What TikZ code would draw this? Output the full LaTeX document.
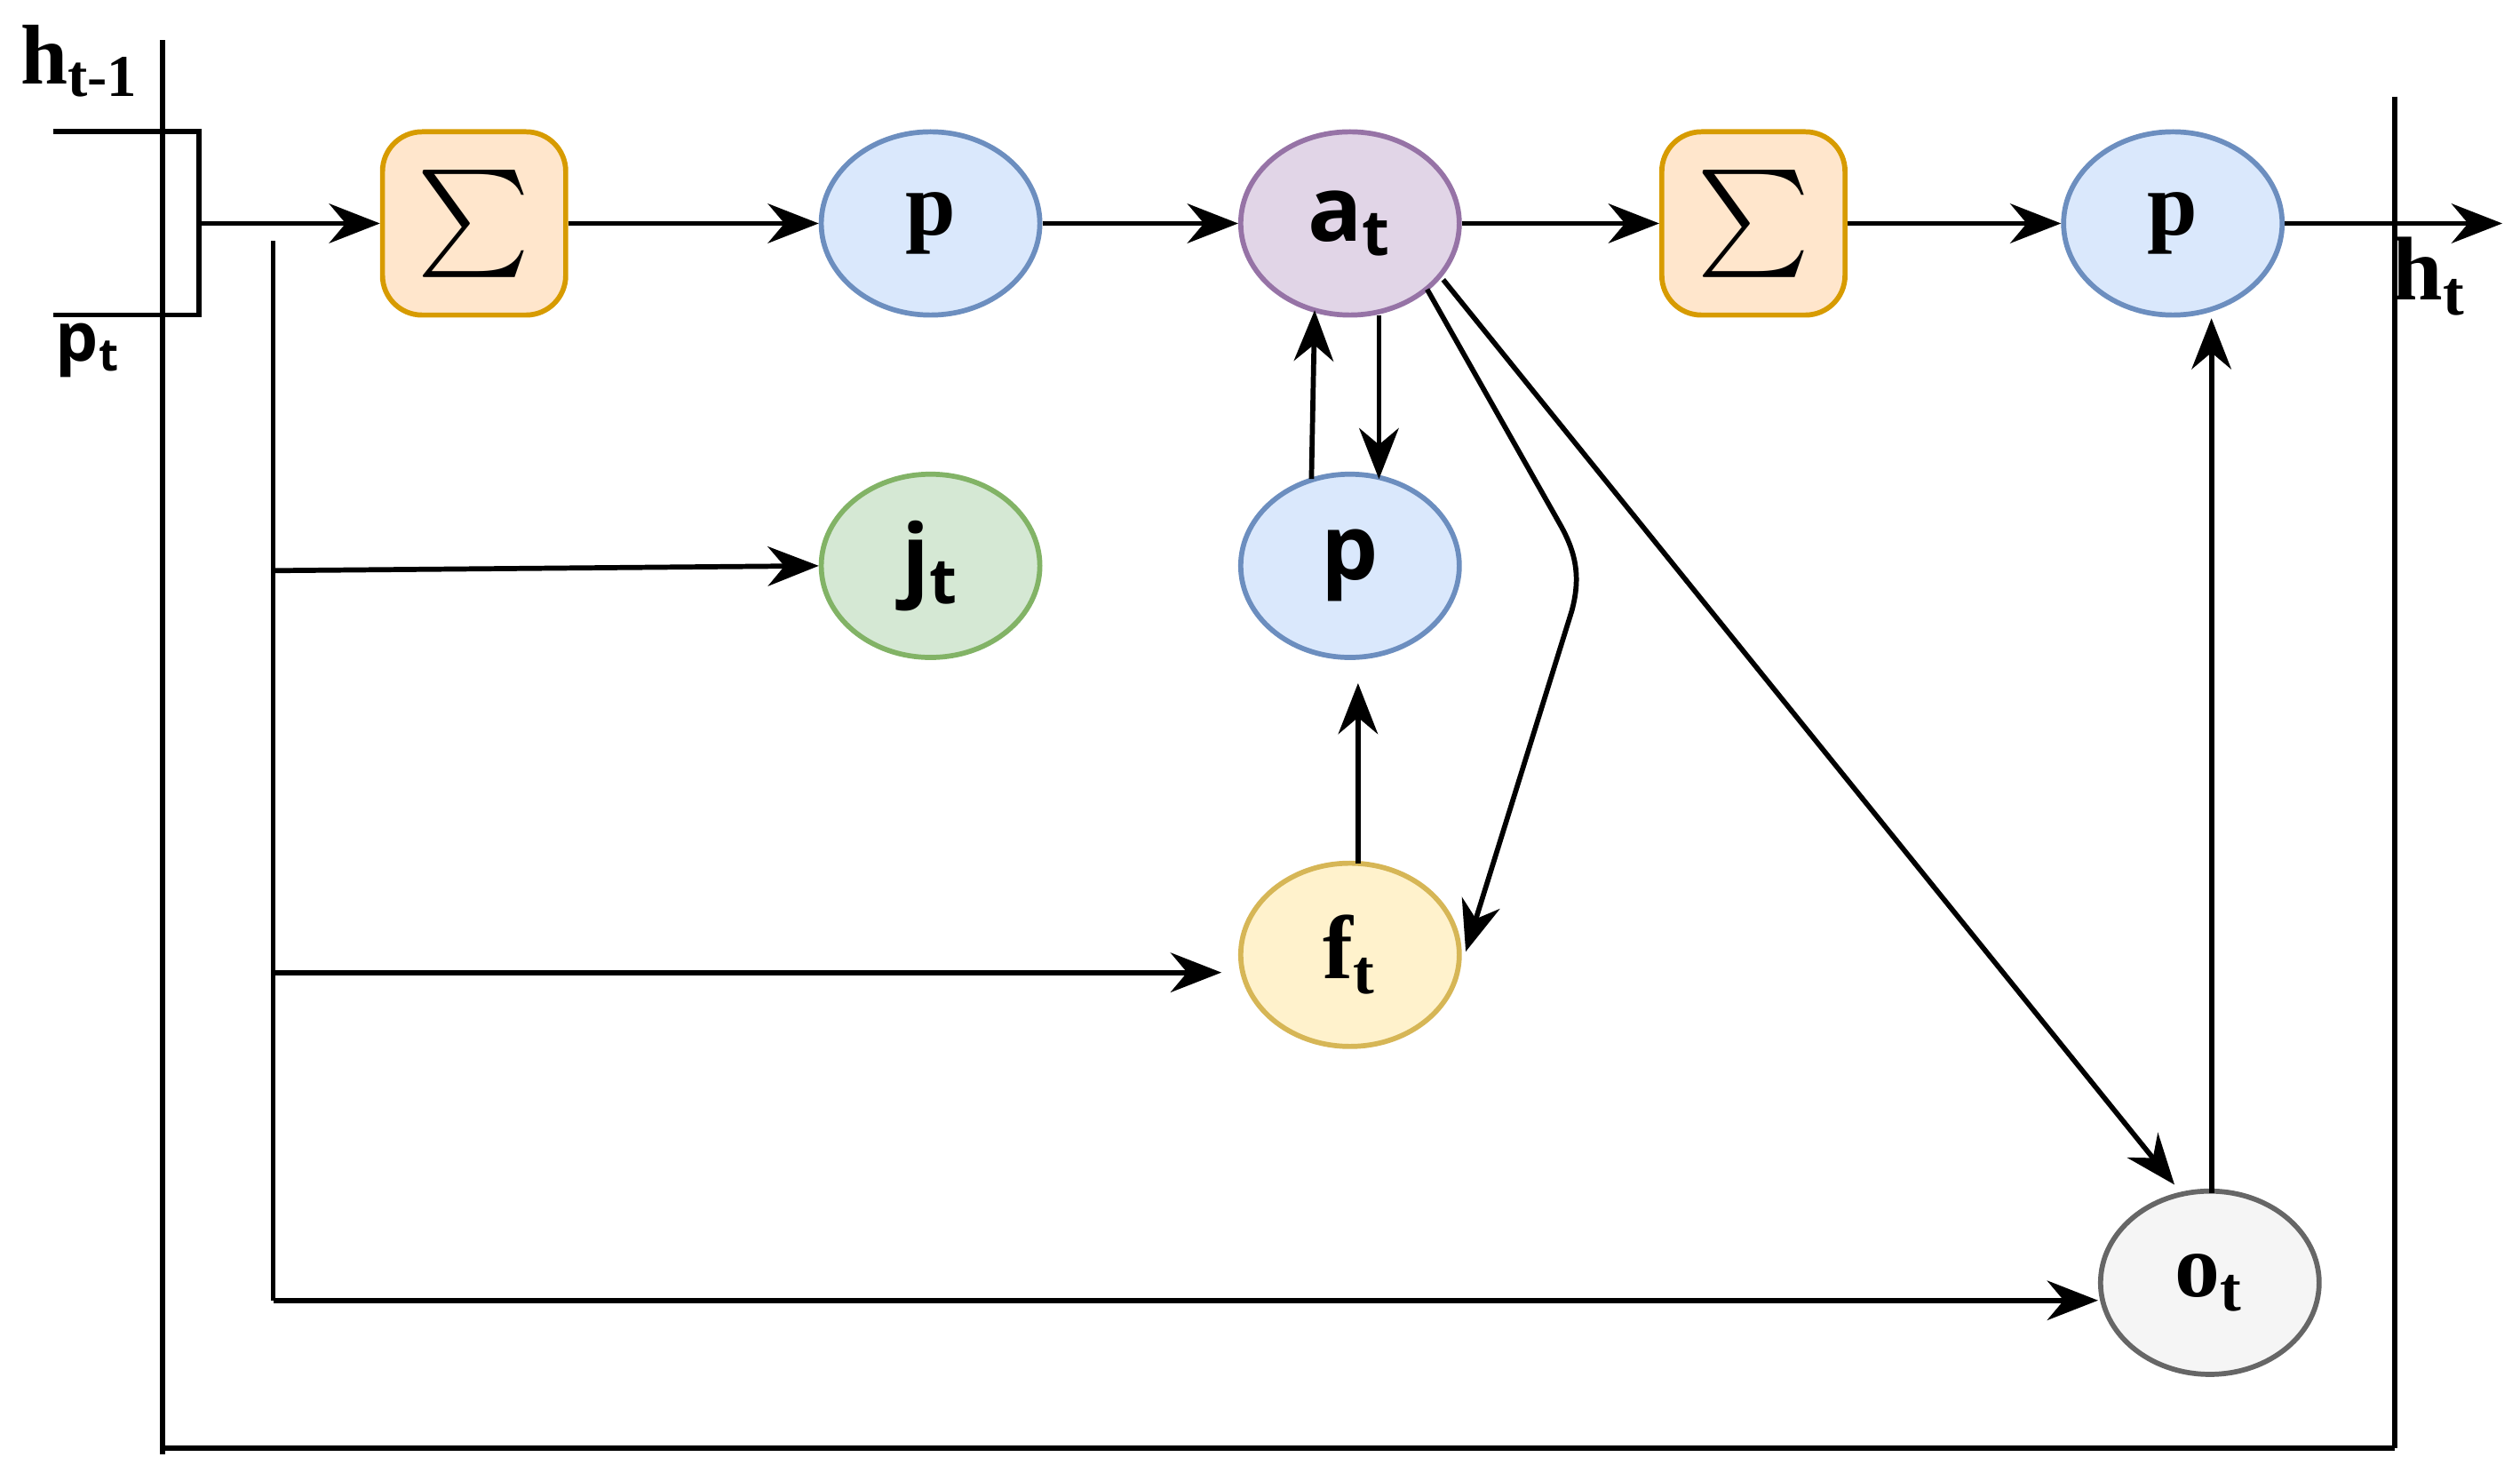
\documentclass[tikz,border=0pt]{standalone}
\usepackage{fontspec}
\setmainfont{Liberation Serif}
\newfontfamily\ssf{Open Sans}
\usetikzlibrary{shapes.geometric,arrows.meta}
\begin{document}
\begin{tikzpicture}[x=1cm,y=1cm,
  ar/.style={-{Stealth[length=9pt,width=7pt]},line width=0.9pt},
  ln/.style={line width=0.9pt},
  el/.style={ellipse,minimum width=1.36cm,minimum height=1.14cm,line width=0.9pt,inner sep=0pt,font=\fontsize{16}{18}\selectfont\bfseries},
  sg/.style={rectangle,rounded corners=7pt,minimum width=1.14cm,minimum height=1.14cm,line width=0.9pt,draw={rgb,255:red,215;green,155;blue,0}},
  blue/.style={fill={rgb,255:red,218;green,232;blue,252},draw={rgb,255:red,108;green,142;blue,191}},
  lbl/.style={font=\fontsize{15}{17}\selectfont\bfseries}]
\useasboundingbox (0,0) rectangle (15.68,-9.21);
\definecolor{sfill}{RGB}{255,230,204}
% frame
\draw[ln] (1.01,-0.25) -- (1.01,-9.05);
\draw[ln] (1.01,-9.01) -- (14.90,-9.01);
\draw[ln] (14.90,-0.60) -- (14.90,-9.01);
\node[lbl] (hin) at (0.50,-0.38) {h\textsubscript{t-1}};
\node[lbl,font=\ssf\fontsize{12}{14}\selectfont\bfseries] (pin) at (0.55,-2.18) {p\textsubscript{t}};
\draw[ln] (0.33,-0.82) -- (1.24,-0.82) -- (1.24,-1.96) -- (0.33,-1.96);
\coordinate (br) at (1.24,-1.39);
% nodes
\node[sg,fill=sfill] (s1) at (2.95,-1.39) {\scalebox{1.9}{$\sum$}};
\node[el,blue] (p1) at (5.79,-1.39) {p};
\node[el,fill={rgb,255:red,225;green,213;blue,231},draw={rgb,255:red,150;green,115;blue,166},font=\ssf\fontsize{16}{18}\selectfont\bfseries] (at) at (8.40,-1.39) {a\textsubscript{t}};
\node[sg,fill=sfill] (s2) at (10.91,-1.39) {\scalebox{1.9}{$\sum$}};
\node[el,blue] (p2) at (13.52,-1.39) {p};
\node[el,fill={rgb,255:red,213;green,232;blue,212},draw={rgb,255:red,130;green,179;blue,102},font=\ssf\fontsize{16}{18}\selectfont\bfseries] (jt) at (5.79,-3.52) {j\textsubscript{t}};
\node[el,blue,font=\ssf\fontsize{16}{18}\selectfont\bfseries] (p3) at (8.40,-3.52) {p};
\node[el,fill={rgb,255:red,255;green,242;blue,204},draw={rgb,255:red,214;green,182;blue,86}] (ft) at (8.40,-5.94) {f\textsubscript{t}};
\node[el,fill={rgb,255:red,245;green,245;blue,245},draw={rgb,255:red,102;green,102;blue,102}] (ot) at (13.75,-7.98) {o\textsubscript{t}};
\coordinate (hout) at (15.57,-1.39);
\node[lbl,font=\fontsize{16}{18}\selectfont\bfseries] (htl) at (15.12,-1.72) {h\textsubscript{t}};
% connectors
\draw[ar] (br) -- (s1.west);
\draw[ar] (s1.east) -- (p1.west);
\draw[ar] (p1.east) -- (at.west);
\draw[ar] (at.east) -- (s2.west);
\draw[ar] (s2.east) -- (p2.west);
\draw[ar] (p2.east) -- (hout);
\coordinate (tr0) at (1.70,-1.50);
\coordinate (tr1) at (1.70,-3.55);
\coordinate (tr2) at (1.70,-6.05);
\coordinate (tr3) at (1.70,-8.09);
\draw[ln] (tr0) -- (tr3);
\draw[ar] (tr1) -- (jt.west);
\draw[ar] (tr2) -- (7.60,-6.05);
\draw[ar] (tr3) -- (ot.west |- tr3);
\draw[ar] (8.16,-2.98) -- (8.18,-1.93);
\draw[ar] (8.58,-1.96) -- (8.58,-2.98);
\draw[ar] (8.45,-5.37) -- (8.45,-4.25);
\draw[ar] (8.88,-1.80) -- (9.70,-3.25) to[out=-60,in=75] (9.78,-3.80) -- (9.12,-5.92);
\draw[ar] (8.98,-1.74) -- (13.53,-7.37);
\draw[ar] (13.76,-7.42) -- (13.76,-1.98);
\end{tikzpicture}
\end{document}
